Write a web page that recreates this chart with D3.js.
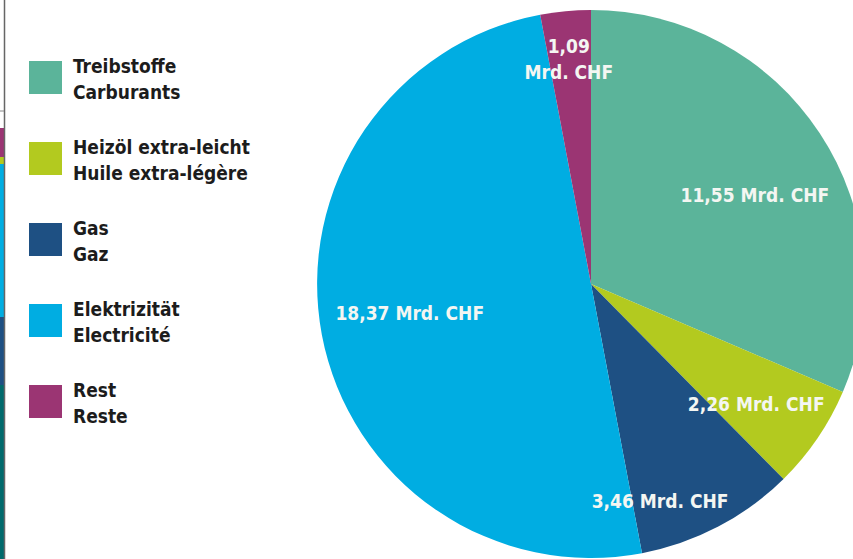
<!DOCTYPE html>
<html>
<head>
<meta charset="utf-8">
<script src="https://cdn.jsdelivr.net/npm/d3@7"></script>
<style>
  html, body { margin: 0; padding: 0; background: #fff; }
  svg { display: block; }
  text { font-family: "DejaVu Sans Condensed", "DejaVu Sans", sans-serif; font-stretch: condensed; font-weight: bold; }
</style>
</head>
<body>
<svg></svg>
<script>
const SVG_MEASURES = {
  width: 853,
  height: 559
}

// data (Mrd. CHF)
const categoriesDe = ['Treibstoffe', 'Heizöl extra-leicht', 'Gas', 'Elektrizität', 'Rest']
const categoriesFr = ['Carburants', 'Huile extra-légère', 'Gaz', 'Electricité', 'Reste']
const values = [11.55, 2.26, 3.46, 18.37, 1.09]
const valueLabels = ['11,55 Mrd. CHF', '2,26 Mrd. CHF', '3,46 Mrd. CHF', '18,37 Mrd. CHF', '1,09\nMrd. CHF']
const colors = ['#5bb49a', '#b3ca1f', '#1e5083', '#00ade2', '#9b3573']

// label placement: fraction of radius and angle nudge in degrees
const labelLayout = [
  { r: 0.68, nudge: 5 },
  { r: 0.745, nudge: 1.7 },
  { r: 0.83, nudge: 10 },
  { r: 0.67, nudge: 1.6 },
  { r: 0.825, nudge: -0.3 }
]

const center = { x: 591, y: 284 }
const radius = 274

const svg = d3.select('svg')
  .attr('width', SVG_MEASURES.width)
  .attr('height', SVG_MEASURES.height)

// leftover edge of the neighbouring page
const edge = svg.append('g')
const edgeBands = [
  { color: '#9b3573', y0: 128, y1: 157 },
  { color: '#b3ca1f', y0: 157, y1: 164 },
  { color: '#00ade2', y0: 164, y1: 317 },
  { color: '#1e5083', y0: 317, y1: 385 },
  { color: '#006a6c', y0: 385, y1: 559 }
]
edge.selectAll('rect')
  .data(edgeBands)
  .join('rect')
    .attr('x', 0)
    .attr('y', d => d.y0)
    .attr('width', 4)
    .attr('height', d => d.y1 - d.y0)
    .attr('fill', d => d.color)
edge.append('line')
  .attr('x1', 4.5).attr('x2', 4.5).attr('y1', 0).attr('y2', SVG_MEASURES.height)
  .attr('stroke', '#666').attr('stroke-width', 1.5)
edge.append('line')
  .attr('x1', 0).attr('x2', 4).attr('y1', 111).attr('y2', 111)
  .attr('stroke', '#888').attr('stroke-width', 1)

// pie
const pie = d3.pie().sort(null).value(d => d)
const arc = d3.arc().innerRadius(0).outerRadius(radius)
const arcs = pie(values)

const pieGroup = svg.append('g')
  .attr('transform', `translate(${center.x}, ${center.y})`)

pieGroup.selectAll('path')
  .data(arcs)
  .join('path')
    .attr('d', arc)
    .attr('fill', (d, i) => colors[i])

pieGroup.selectAll('text.value')
  .data(arcs)
  .join('text')
    .attr('class', 'value')
    .attr('fill', '#f4f6f2')
    .attr('font-size', 19)
    .attr('text-anchor', 'middle')
    .each(function (d, i) {
      const a = (d.startAngle + d.endAngle) / 2 + labelLayout[i].nudge * Math.PI / 180
      const r = labelLayout[i].r * radius
      const x = Math.sin(a) * r
      const y = -Math.cos(a) * r
      const lines = valueLabels[i].split('\n')
      const lineHeight = 26
      d3.select(this).selectAll('tspan')
        .data(lines)
        .join('tspan')
          .attr('x', x)
          .attr('y', (l, j) => y + 7 + (j - (lines.length - 1) / 2) * lineHeight)
          .text(l => l)
    })

// legend
const legend = svg.append('g')
  .attr('transform', 'translate(29, 61)')

const legendRows = legend.selectAll('g')
  .data(categoriesDe)
  .join('g')
    .attr('transform', (d, i) => `translate(0, ${i * 81})`)

legendRows.append('rect')
  .attr('width', 33)
  .attr('height', 33)
  .attr('fill', (d, i) => colors[i])

legendRows.append('text')
  .attr('x', 44)
  .attr('y', 12)
  .attr('font-size', 19)
  .attr('fill', '#1c1c1c')
  .text(d => d)

legendRows.append('text')
  .attr('x', 44)
  .attr('y', 38)
  .attr('font-size', 19)
  .attr('fill', '#1c1c1c')
  .text((d, i) => categoriesFr[i])
</script>
</body>
</html>
